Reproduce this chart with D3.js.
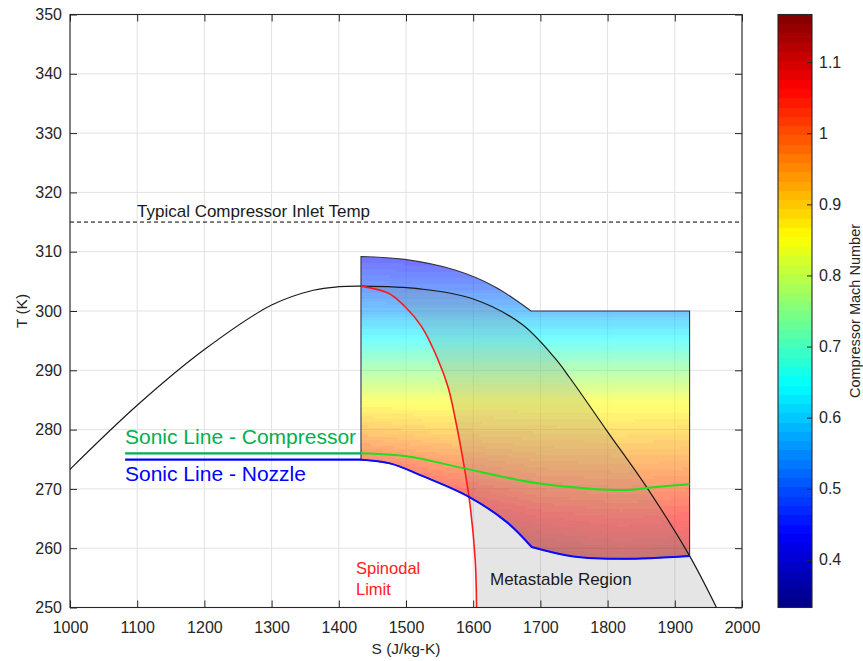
<!DOCTYPE html>
<html>
<head>
<meta charset="utf-8">
<script src="https://cdn.jsdelivr.net/npm/d3@7"></script>
<style>
  body { margin: 0; background: #fff; }
  svg text { font-family: "Liberation Sans", Arial, Helvetica, sans-serif; }
</style>
</head>
<body>
<div id="chart"></div>
<script>
// saturation dome (black)
var domeS = [1000, 1100, 1200, 1300, 1362, 1400, 1433, 1523, 1598, 1672, 1722, 1744, 1799, 1861, 1922, 1962];
var domeT = [273.3, 284.1, 293.5, 301.0, 303.5, 304.1, 304.2, 303.7, 302.1, 297.8, 292.0, 288.7, 279.8, 269.8, 258.7, 250];

// spinodal limit (red)
var spinS = [1433, 1474, 1498, 1523, 1548, 1563, 1573, 1587, 1595, 1603, 1605];
var spinT = [304.2, 303.0, 300.8, 297.4, 291.7, 287.0, 282.0, 273.5, 267.6, 258, 250];

// sonic lines
var compS = [1433, 1501, 1585, 1699, 1828, 1861, 1922];
var compT = [276.0, 275.5, 273.5, 270.9, 269.8, 270.2, 270.8];
var nozS = [1433, 1476, 1526, 1593, 1650, 1687, 1749, 1823, 1922];
var nozT = [274.9, 274.3, 272.1, 268.7, 264.4, 260.2, 258.6, 258.2, 258.7];
var legendS = [1082, 1433];
var legendCompT = 276.0;
var legendNozT = 274.95;

// top edge of the coloured region
var topS = [1433, 1498, 1573, 1632, 1686, 1922];
var topT = [309.2, 308.7, 306.9, 304.1, 300.0, 300.0];

// compressor Mach number
var machS = [1433, 1550, 1700, 1820, 1922];
var machT = [312, 305, 300, 295, 290, 285, 280, 275, 270, 265, 260, 255];
var machGrid = [
  [0.40, 0.40, 0.40, 0.40, 0.40],
  [0.49, 0.48, 0.48, 0.48, 0.48],
  [0.56, 0.56, 0.56, 0.56, 0.56],
  [0.655, 0.655, 0.655, 0.655, 0.655],
  [0.75, 0.75, 0.75, 0.75, 0.75],
  [0.845, 0.845, 0.845, 0.845, 0.845],
  [0.93, 0.91, 0.90, 0.895, 0.90],
  [1.02, 0.985, 0.955, 0.95, 0.955],
  [1.10, 1.05, 1.01, 1.00, 1.01],
  [1.17, 1.11, 1.065, 1.05, 1.06],
  [1.22, 1.16, 1.12, 1.10, 1.11],
  [1.25, 1.19, 1.16, 1.14, 1.15]
];

var inletT = 315;
var xTicks = [1000, 1100, 1200, 1300, 1400, 1500, 1600, 1700, 1800, 1900, 2000];
var yTicks = [250, 260, 270, 280, 290, 300, 310, 320, 330, 340, 350];
var cTicks = [0.4, 0.5, 0.6, 0.7, 0.8, 0.9, 1, 1.1];
var cDomain = [0.333, 1.167];

var svgWidth = 863, svgHeight = 661;
var axisColor = "#262626";

var svg = d3.select("#chart").append("svg")
  .attr("width", svgWidth)
  .attr("height", svgHeight);

var x = d3.scaleLinear().domain([1000, 2000]).range([70, 742]);
var y = d3.scaleLinear().domain([250, 350]).range([607.5, 14.5]);
var cScale = d3.scaleLinear().domain(cDomain).range([607.5, 14.5]);

function jet(f) {
  var c = v => Math.max(0, Math.min(1, v));
  return d3.rgb(255 * c(1.5 - Math.abs(4 * f - 3)),
                255 * c(1.5 - Math.abs(4 * f - 2)),
                255 * c(1.5 - Math.abs(4 * f - 1))).toString();
}
// 64 level colormap like matlab
function machColor(m) {
  var f = (m - cDomain[0]) / (cDomain[1] - cDomain[0]);
  var i = Math.max(0, Math.min(63, Math.floor(f * 64)));
  return jet((i + 0.5) / 64);
}

function machAt(s, t) {
  var i = d3.bisectRight(machS, s) - 1;
  i = Math.max(0, Math.min(machS.length - 2, i));
  var j = 0;
  while (j < machT.length - 2 && t < machT[j + 1]) j++;
  var u = Math.max(0, Math.min(1, (s - machS[i]) / (machS[i + 1] - machS[i])));
  var v = Math.max(0, Math.min(1, (machT[j] - t) / (machT[j] - machT[j + 1])));
  var a = machGrid[j][i], b = machGrid[j][i + 1], c = machGrid[j + 1][i], d = machGrid[j + 1][i + 1];
  return (a * (1 - u) + b * u) * (1 - v) + (c * (1 - u) + d * u) * v;
}

function pts(sArr, tArr) { return sArr.map((s, i) => [s, tArr[i]]); }

var smooth = d3.line().x(d => x(d[0])).y(d => y(d[1])).curve(d3.curveCatmullRom.alpha(0.5));
var straight = d3.line().x(d => x(d[0])).y(d => y(d[1]));
// join path pieces into one continuous path
function joinPaths(parts) {
  return parts.map((p, i) => i === 0 ? p : "L" + p.slice(1)).join("");
}

// grid
var grid = svg.append("g");
grid.selectAll(".gx").data(xTicks).enter().append("line")
  .attr("x1", d => x(d)).attr("x2", d => x(d))
  .attr("y1", y(250)).attr("y2", y(350))
  .attr("stroke", "#e2e2e2").attr("stroke-width", 1);
grid.selectAll(".gy").data(yTicks).enter().append("line")
  .attr("x1", x(1000)).attr("x2", x(2000))
  .attr("y1", d => y(d)).attr("y2", d => y(d))
  .attr("stroke", "#e2e2e2").attr("stroke-width", 1);

var domePts = pts(domeS, domeT);
var domeRight = domePts.filter(d => d[0] >= 1433);
var spinPts = pts(spinS, spinT);
var nozPts = pts(nozS, nozT);
var nozA = nozPts.filter(d => d[0] <= 1687);
var nozB = nozPts.filter(d => d[0] >= 1687);
var nozPath = joinPaths([smooth(nozA), smooth(nozB)]);
var topPts = pts(topS, topT);

// coloured region
var patchPath = joinPaths([
  smooth(topPts.slice(0, 5)),
  straight([[1922, 300], [1922, 258.7]]),
  smooth(nozB.slice().reverse()),
  smooth(nozA.slice().reverse())
]) + "Z";

svg.append("clipPath").attr("id", "patchClip").append("path").attr("d", patchPath);

var cells = [];
var step = 3;
for (var px = Math.floor(x(1433)) - 1; px < x(1922) + 2; px += step) {
  for (var py = Math.floor(y(309.5)); py < y(257.5); py += step) {
    var m = machAt(x.invert(px + step / 2), y.invert(py + step / 2));
    cells.push({px: px, py: py, m: m});
  }
}
var field = svg.append("g")
  .attr("clip-path", "url(#patchClip)")
  .attr("opacity", 0.55);
field.selectAll("rect").data(cells).enter().append("rect")
  .attr("x", d => d.px).attr("y", d => d.py)
  .attr("width", step).attr("height", step)
  .attr("fill", d => machColor(d.m))
  .attr("shape-rendering", "crispEdges");

// metastable region, translucent grey over everything below it
var metaPath = joinPaths([
  smooth(spinPts),
  straight([[1605, 250], [1962, 250]]),
  smooth(domeRight.slice().reverse())
]) + "Z";
svg.append("path").attr("d", metaPath)
  .attr("fill", "#7f7f7f").attr("fill-opacity", 0.2).attr("stroke", "none");

svg.append("path").attr("d", patchPath)
  .attr("fill", "none").attr("stroke", "#333344").attr("stroke-width", 1.1);

// dashed inlet temperature
svg.append("line")
  .attr("x1", x(1000)).attr("x2", x(2000))
  .attr("y1", y(inletT)).attr("y2", y(inletT))
  .attr("stroke", "#000").attr("stroke-width", 1).attr("stroke-dasharray", "4,3");

// dome
svg.append("path").attr("d", smooth(domePts))
  .attr("fill", "none").attr("stroke", "#1a1a1a").attr("stroke-width", 1.2);

// spinodal
svg.append("path").attr("d", smooth(spinPts))
  .attr("fill", "none").attr("stroke", "#ff1a1a").attr("stroke-width", 1.6);

// sonic lines
svg.append("path").attr("d", straight(legendS.map(s => [s, legendCompT])))
  .attr("fill", "none").attr("stroke", "#00b050").attr("stroke-width", 2.2);
svg.append("path").attr("d", smooth(pts(compS, compT)))
  .attr("fill", "none").attr("stroke", "#1ee01e").attr("stroke-width", 2);
svg.append("path").attr("d", straight(legendS.map(s => [s, legendNozT])))
  .attr("fill", "none").attr("stroke", "#0000ff").attr("stroke-width", 2.2);
svg.append("path").attr("d", nozPath)
  .attr("fill", "none").attr("stroke", "#0a0aff").attr("stroke-width", 2);

// annotations
svg.append("text").attr("x", 137).attr("y", 217)
  .attr("font-size", 17).attr("fill", "#1a1a1a").text("Typical Compressor Inlet Temp");
svg.append("text").attr("x", 125).attr("y", 444)
  .attr("font-size", 21).attr("fill", "#00b050").text("Sonic Line - Compressor");
svg.append("text").attr("x", 125).attr("y", 480.5)
  .attr("font-size", 21).attr("fill", "#0000ff").text("Sonic Line - Nozzle");
svg.append("text").attr("x", 356).attr("y", 574)
  .attr("font-size", 16.5).attr("fill", "#ff2020").text("Spinodal");
svg.append("text").attr("x", 356).attr("y", 595)
  .attr("font-size", 16.5).attr("fill", "#ff2020").text("Limit");
svg.append("text").attr("x", 490).attr("y", 585)
  .attr("font-size", 17).attr("fill", "#1a1a1a").text("Metastable Region");

// axes
function styleAxis(g) {
  g.select(".domain").remove();
  g.selectAll(".tick line").attr("stroke", axisColor);
  g.selectAll(".tick text").attr("fill", axisColor).attr("font-size", 16)
    .attr("font-family", "Liberation Sans, Arial, sans-serif");
}
svg.append("g").attr("transform", `translate(0,${y(250)})`)
  .call(d3.axisBottom(x).tickValues(xTicks).tickSize(-7).tickPadding(14).tickFormat(d3.format("d")))
  .call(styleAxis);
svg.append("g").attr("transform", `translate(0,${y(350)})`)
  .call(d3.axisTop(x).tickValues(xTicks).tickSize(-7).tickFormat(""))
  .call(styleAxis);
svg.append("g").attr("transform", `translate(${x(1000)},0)`)
  .call(d3.axisLeft(y).tickValues(yTicks).tickSize(-7).tickPadding(8))
  .call(styleAxis);
svg.append("g").attr("transform", `translate(${x(2000)},0)`)
  .call(d3.axisRight(y).tickValues(yTicks).tickSize(-7).tickFormat(""))
  .call(styleAxis);
svg.append("rect")
  .attr("x", x(1000)).attr("y", y(350))
  .attr("width", x(2000) - x(1000)).attr("height", y(250) - y(350))
  .attr("fill", "none").attr("stroke", axisColor).attr("stroke-width", 1.1);

svg.append("text").attr("x", 406).attr("y", 654)
  .attr("text-anchor", "middle").attr("font-size", 15.5).attr("fill", axisColor)
  .text("S (J/kg-K)");
svg.append("text").attr("transform", "translate(27,311) rotate(-90)")
  .attr("text-anchor", "middle").attr("font-size", 15.5).attr("fill", axisColor)
  .text("T (K)");

// colorbar
var cbX = 778, cbW = 34;
var levels = d3.range(64);
var lvH = (cScale(cDomain[0]) - cScale(cDomain[1])) / 64;
svg.append("g").selectAll("rect").data(levels).enter().append("rect")
  .attr("x", cbX).attr("width", cbW)
  .attr("y", d => cScale(cDomain[0]) - (d + 1) * lvH)
  .attr("height", lvH + 0.4)
  .attr("fill", d => jet((d + 0.5) / 64))
  .attr("shape-rendering", "crispEdges");
svg.append("g").attr("transform", `translate(${cbX + cbW},0)`)
  .call(d3.axisRight(cScale).tickValues(cTicks).tickSize(-5).tickPadding(7)
    .tickFormat(d => String(+d.toFixed(1))))
  .call(styleAxis);
svg.append("rect").attr("x", cbX).attr("y", cScale(cDomain[1]))
  .attr("width", cbW).attr("height", cScale(cDomain[0]) - cScale(cDomain[1]))
  .attr("fill", "none").attr("stroke", axisColor).attr("stroke-width", 1.1);
svg.append("text").attr("transform", "translate(860,311) rotate(-90)")
  .attr("text-anchor", "middle").attr("font-size", 14.5).attr("fill", axisColor)
  .text("Compressor Mach Number");
</script>
</body>
</html>
